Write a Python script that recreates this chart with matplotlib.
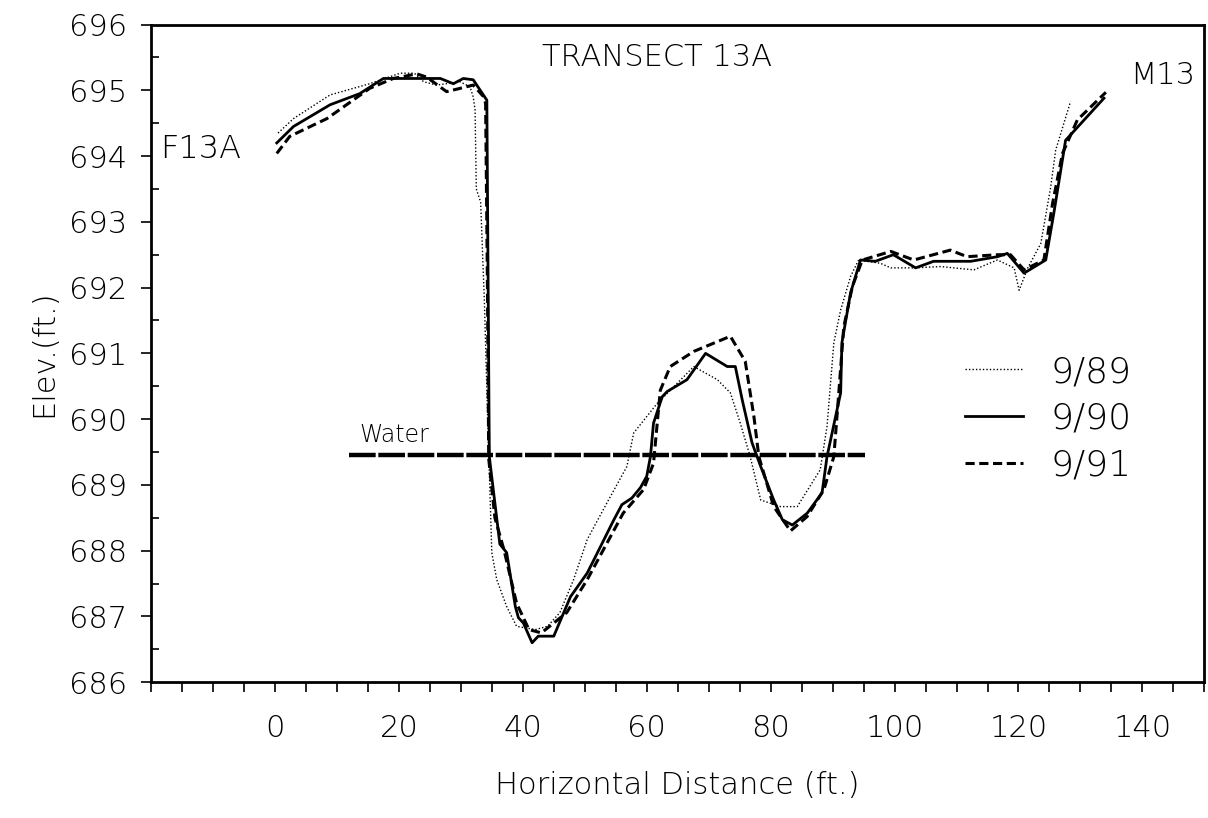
import numpy as np
import matplotlib
matplotlib.use("Agg")
import matplotlib.pyplot as plt
from matplotlib.ticker import MultipleLocator, FixedLocator

plt.rcParams['font.family'] = ['DejaVu Sans']
plt.rcParams['font.weight'] = 'light'
plt.rcParams['axes.labelweight'] = 'light'

# 9/89 survey (dotted)
x89 = [0.5, 3, 8.9, 15.3, 20.2, 22.5, 24, 26.1, 29.9, 31.5, 32.0, 32.3, 32.5, 33.2, 33.8, 34.4,
       34.7, 35.0, 35.8, 37.4, 39, 42, 44, 46, 48.2, 50.4, 53.6, 56.8, 57.9, 61.7, 67.6, 71.4,
       73.5, 75.1, 76.7, 78.4, 81.6, 84.3, 88, 89.1, 90.2, 91.3, 92.9, 94.2, 97.7, 99.4, 103.1,
       107.4, 112.8, 116.6, 119.3, 120.1, 121.5, 123.6, 125.2, 126, 128.4]
y89 = [694.35, 694.57, 694.93, 695.1, 695.26, 695.26, 695.13, 695.08, 695.13, 695.05, 694.9, 694.7, 693.5, 693.3, 691.8, 689.8,
       688.9, 687.97, 687.56, 687.15, 686.85, 686.8, 686.85, 687.06, 687.56, 688.17, 688.73, 689.28, 689.79, 690.24, 690.8, 690.6,
       690.4, 689.94, 689.43, 688.77, 688.67, 688.67, 689.23, 689.89, 691.16, 691.66, 692.17, 692.42, 692.37, 692.3, 692.3,
       692.32, 692.27, 692.42, 692.3, 691.96, 692.3, 692.67, 693.53, 694.09, 694.83]

# 9/90 survey (solid)
x90 = [0.3, 3.0, 8.9, 13.7, 17.5, 26.7, 28.8, 30.4, 32.0, 34.2, 34.6, 35.3, 36.3, 37.4, 38.8, 39.3,
       40.1, 41.5, 42.5, 45, 47.7, 50.4, 52, 54.7, 56, 57.6, 59, 60, 60.6, 61.1, 62.5, 63.3, 66.5,
       69.5, 73, 74.3, 75.4, 77, 78.4, 80.5, 81.9, 83.5, 85.9, 88.3, 89.1, 91.3, 91.5, 92.9, 94.5,
       96.9, 99.8, 103.4, 106.3, 112.3, 116.6, 118.2, 120.9, 124.4, 125.7, 127.6, 133.8]
y90 = [694.2, 694.45, 694.78, 694.95, 695.18, 695.18, 695.1, 695.18, 695.16, 694.85, 689.43, 688.88, 688.1, 687.97, 687.15, 686.98,
       686.9, 686.6, 686.7, 686.7, 687.3, 687.66, 687.96, 688.47, 688.7, 688.8, 688.96, 689.13, 689.43, 689.94, 690.34, 690.42, 690.6,
       691.0, 690.8, 690.8, 690.3, 689.64, 689.28, 688.77, 688.47, 688.39, 688.57, 688.88, 689.43, 690.4, 691.16, 691.92, 692.42,
       692.4, 692.5, 692.3, 692.4, 692.4, 692.47, 692.52, 692.22, 692.42, 693.13, 694.24, 694.88]

# 9/91 survey (dashed)
x91 = [0.3, 2.4, 8.4, 15.3, 19.1, 22.9, 24.5, 27.7, 29.9, 32.0, 33.7, 34.0, 34.3, 34.5, 35.5, 37,
       39, 41, 43, 45, 47.1, 50.4, 56.2, 59.5, 61.1, 61.7, 62.2, 63.8, 67.6, 73.5, 75.9, 77.3, 78.1,
       80.5, 83.2, 85.9, 88.6, 90.2, 91, 91.8, 93.2, 94.8, 99.4, 103.1, 109, 111.7, 116.6, 118.7,
       120.9, 124.1, 125.5, 127.1, 129.5, 134.1]
y91 = [694.04, 694.3, 694.57, 695.03, 695.18, 695.25, 695.2, 694.98, 695.03, 695.08, 694.9, 694.8, 692.0, 689.4, 688.5, 688.0,
       687.2, 686.8, 686.75, 686.9, 687.06, 687.56, 688.57, 688.93, 689.33, 689.94, 690.44, 690.8, 691.03, 691.26, 690.88, 690.04, 689.43,
       688.67, 688.3, 688.52, 688.93, 689.43, 690.4, 691.4, 692.02, 692.42, 692.55, 692.42, 692.57, 692.47, 692.5, 692.5,
       692.27, 692.42, 693.28, 694.04, 694.55, 694.97]

water_x = [12.0, 95.3]
water_y = 689.45

fig = plt.figure(figsize=(12.08, 8.18), dpi=100)
ax = fig.add_axes([0.125, 0.166, 0.872, 0.804])

l89, = ax.plot(x89, y89, color='black', lw=1.0, linestyle=(0, (1, 1.5)))
l90, = ax.plot(x90, y90, color='black', lw=2.0, linestyle='-')
l91, = ax.plot(x91, y91, color='black', lw=2.2, linestyle=(0, (3, 1.5)))
ax.plot(water_x, [water_y, water_y], color='black', lw=3.2, linestyle=(0, (6, 0.6)))

ax.text(13.7, water_y + 0.12, 'Water', fontsize=17, ha='left', va='bottom')
ax.text(-18.6, 694.1, 'F13A', fontsize=23, ha='left', va='center')
ax.text(148.6, 695.23, 'M13', fontsize=22, ha='right', va='center')
ax.text(61.7, 695.5, 'TRANSECT 13A', fontsize=22, ha='center', va='center')

ax.set_xlim(-20, 150)
ax.set_ylim(686, 696)
ax.xaxis.set_major_locator(FixedLocator(np.arange(0, 141, 20)))
ax.xaxis.set_minor_locator(MultipleLocator(5))
ax.yaxis.set_major_locator(MultipleLocator(1))
ax.yaxis.set_minor_locator(MultipleLocator(0.5))
ax.tick_params(axis='x', which='both', direction='out', length=7, width=1.2, labelsize=22, pad=16)
ax.tick_params(axis='y', which='major', direction='out', length=7, width=1.2, labelsize=22, pad=10)
ax.tick_params(axis='y', which='minor', direction='in', length=6, width=1.2)
for s in ax.spines.values():
    s.set_linewidth(2.0)

ax.set_xlabel('Horizontal Distance (ft.)', fontsize=22, labelpad=20)
ax.set_ylabel('Elev.(ft.)', fontsize=22, labelpad=8)

leg = ax.legend([l89, l90, l91], ['9/89', '9/90', '9/91'], loc='upper left',
                bbox_to_anchor=(0.799, 0.566), bbox_transform=fig.transFigure,
                frameon=False, fontsize=26, borderpad=0, borderaxespad=0,
                handlelength=1.6, handletextpad=0.75, labelspacing=0.35)

fig.savefig('out.png', dpi=100)
